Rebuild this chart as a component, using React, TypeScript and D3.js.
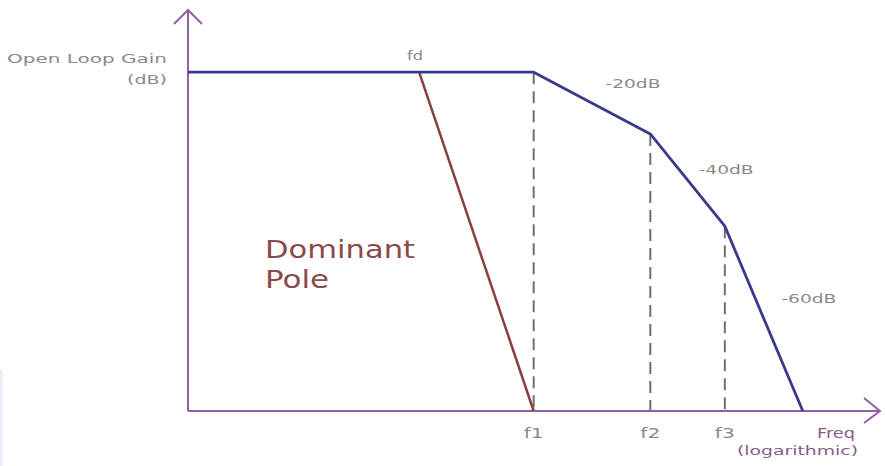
import React from "react";
import * as d3 from "d3";

// Frequency positions (log-frequency units, arbitrary) and gain (arbitrary dB units)
const breakLabels = ["f1", "f2", "f3"];
const gainFreq = [0, 50.1, 67.0, 77.8, 89.1];
const gainDb = [84.5, 84.5, 69.1, 46.1, 0];
const poleFreq = [33.5, 50.1];
const poleDb = [84.5, 0];
const slopeLabels = ["-20dB", "-40dB", "-60dB"];
const slopeLabelPos = [
  [60.5, 80.5],
  [74.0, 59.0],
  [86.0, 27.0],
];

const W = 885;
const H = 466;

export default function App() {
  const x = d3.scaleLinear().domain([0, 100]).range([188, 878]);
  const y = d3.scaleLinear().domain([0, 100]).range([411, 10]);
  const line = d3
    .line<[number, number]>()
    .x((d) => x(d[0]))
    .y((d) => y(d[1]));
  const gainPts: [number, number][] = gainFreq.map((f, i) => [f, gainDb[i]]);
  const polePts: [number, number][] = poleFreq.map((f, i) => [f, poleDb[i]]);
  const axisColor = "#9060a0";
  const font = "'DejaVu Sans', Verdana, sans-serif";
  const y0 = y(0);
  const x0 = x(0);
  return (
    <svg
      width={W}
      height={H}
      style={{ position: "absolute", left: 0, top: 0, background: "#fff" }}
      fontFamily={font}
    >
      <defs>
        <linearGradient id="edge" x1="0" y1="0" x2="1" y2="0">
          <stop offset="0" stopColor="#dbe7f3" />
          <stop offset="1" stopColor="#ffffff" stopOpacity="0" />
        </linearGradient>
      </defs>
      <rect x={0} y={370} width={6} height={96} fill="url(#edge)" />
      {/* dashed verticals */}
      {gainPts.slice(1, 4).map((p, i) => (
        <line
          key={"d" + i}
          x1={x(p[0])}
          x2={x(p[0])}
          y1={y(p[1])}
          y2={y0}
          stroke="#707070"
          strokeWidth={2}
          strokeDasharray="12,7"
        />
      ))}
      {/* axes */}
      <line x1={x0} x2={x0} y1={y0} y2={10} stroke={axisColor} strokeWidth={2} />
      <path d={`M${x0 - 14},24 L${x0},10 L${x0 + 14},24`} fill="none" stroke={axisColor} strokeWidth={2} />
      <line x1={x0} x2={880} y1={y0} y2={y0} stroke={axisColor} strokeWidth={2} />
      <path d={`M864,${y0 - 13} L880,${y0} L864,${y0 + 12}`} fill="none" stroke={axisColor} strokeWidth={2} />
      {/* dominant pole line */}
      <path d={line(polePts) || ""} fill="none" stroke="#8b3e40" strokeWidth={2.5} />
      {/* gain curve */}
      <path d={line(gainPts) || ""} fill="none" stroke="#3a3a8a" strokeWidth={2.8} strokeLinejoin="round" />
      {/* labels */}
      <text x={7} y={63} fontSize={12.5} fill="#8a8a8a" textLength={160} lengthAdjust="spacingAndGlyphs">
        Open Loop Gain
      </text>
      <text x={127} y={84} fontSize={12.5} fill="#8a8a8a" textLength={40} lengthAdjust="spacingAndGlyphs">
        (dB)
      </text>
      <text x={407} y={60} fontSize={13} fill="#8a8a8a" textLength={16} lengthAdjust="spacingAndGlyphs">
        fd
      </text>
      {slopeLabels.map((s, i) => (
        <text
          key={s}
          x={x(slopeLabelPos[i][0])}
          y={y(slopeLabelPos[i][1])}
          fontSize={13}
          fill="#8a8a8a"
          textLength={55}
          lengthAdjust="spacingAndGlyphs"
        >
          {s}
        </text>
      ))}
      {breakLabels.map((s, i) => (
        <text
          key={s}
          x={x(gainFreq[i + 1]) - 10}
          y={438}
          fontSize={14}
          fill="#8a8a8a"
          textLength={20}
          lengthAdjust="spacingAndGlyphs"
        >
          {s}
        </text>
      ))}
      <text x={817} y={438} fontSize={14} fill="#8a5a8a" textLength={38} lengthAdjust="spacingAndGlyphs">
        Freq
      </text>
      <text x={737} y={455} fontSize={13} fill="#8a5a8a" textLength={121} lengthAdjust="spacingAndGlyphs">
        (logarithmic)
      </text>
      <text x={265} y={258} fontSize={24} fill="#8b4a4a" textLength={150} lengthAdjust="spacingAndGlyphs">
        Dominant
      </text>
      <text x={265} y={288} fontSize={24} fill="#8b4a4a" textLength={64} lengthAdjust="spacingAndGlyphs">
        Pole
      </text>
    </svg>
  );
}
